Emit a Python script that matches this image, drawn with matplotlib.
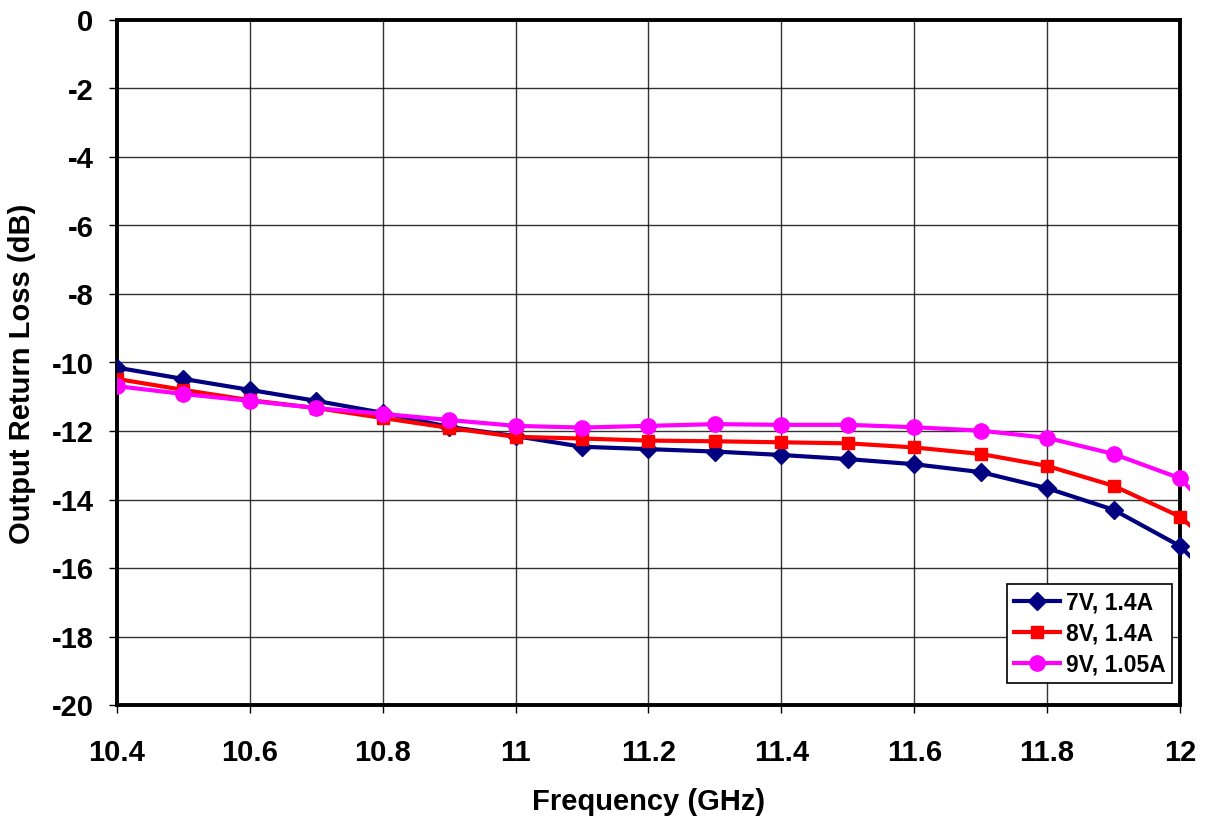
import matplotlib.pyplot as plt
import matplotlib.patches as mpatches
import numpy as np

# frequency points (GHz); last point lies just past the axis and is clipped
freq = [10.4, 10.5, 10.6, 10.7, 10.8, 10.9, 11.0, 11.1, 11.2, 11.3, 11.4,
        11.5, 11.6, 11.7, 11.8, 11.9, 12.0, 12.1]

rl_7v = [-10.15, -10.48, -10.8, -11.12, -11.47, -11.88, -12.15, -12.46, -12.53,
         -12.6, -12.7, -12.82, -12.97, -13.2, -13.67, -14.3, -15.36, -17.3]
rl_8v = [-10.48, -10.8, -11.1, -11.33, -11.62, -11.91, -12.17, -12.22, -12.28,
         -12.3, -12.33, -12.36, -12.48, -12.67, -13.02, -13.6, -14.5, -16.2]
rl_9v = [-10.69, -10.92, -11.12, -11.33, -11.5, -11.68, -11.85, -11.9, -11.85,
         -11.8, -11.82, -11.82, -11.89, -11.99, -12.2, -12.67, -13.38, -15.4]

labels = ['7V, 1.4A', '8V, 1.4A', '9V, 1.05A']
colors = ['#000080', '#FF0000', '#FF00FF']
markers = ['D', 's', 'o']
msizes = [9, 8, 11]

plt.rcParams['font.family'] = ['Liberation Sans', 'DejaVu Sans']
plt.rcParams['font.weight'] = 'bold'
plt.rcParams['axes.unicode_minus'] = False

W, H = 1208, 821
fig = plt.figure(figsize=(W / 100, H / 100), dpi=100)
ax = fig.add_axes([117 / W, 1 - 705 / H, (1180 - 117) / W, (705 - 20) / H])

# clip the lines a few pixels past the right spine, like the original
clip = mpatches.Rectangle((0, 0), 1 + 10 / 1063, 1, transform=ax.transAxes,
                          visible=False)
ax.add_patch(clip)

for ys, lab, c, m, ms in zip([rl_7v, rl_8v, rl_9v], labels, colors, markers, msizes):
    ln, = ax.plot(freq, ys, color=c, lw=3, marker=m, ms=ms, label=lab, zorder=3)
    ln.set_clip_path(clip)

ax.set_xlim(10.4, 12.0)
ax.set_ylim(-20, 0)
ax.set_xticks(np.arange(10.4, 12.01, 0.2))
ax.set_xticklabels(['10.4', '10.6', '10.8', '11', '11.2', '11.4', '11.6', '11.8', '12'])
ax.set_yticks(np.arange(-20, 1, 2))
ax.grid(True, color='black', lw=1, alpha=0.8)
ax.set_axisbelow(True)

for s in ax.spines.values():
    s.set_linewidth(2.8)
ax.tick_params(axis='x', direction='out', length=6, width=1, pad=18.5, labelsize=21)
ax.tick_params(axis='y', direction='out', length=6, width=1, pad=11, labelsize=21)

ax.set_xlabel('Frequency (GHz)', fontsize=21, fontweight='bold', va='center')
ax.xaxis.set_label_coords(0.5, -0.1416)
ax.set_ylabel('Output Return Loss (dB)', fontsize=21, fontweight='bold', va='center')
ax.yaxis.set_label_coords(-0.0894, 0.483)

leg = ax.legend(loc='lower right', bbox_to_anchor=(0.9925, 0.032), fontsize=16.5,
                frameon=True, fancybox=False, edgecolor='black', framealpha=1,
                handlelength=2.0, handletextpad=0.25, borderpad=0.3,
                labelspacing=0.35, borderaxespad=0)
leg.get_frame().set_linewidth(1.2)

fig.savefig('out.png', dpi=100)
